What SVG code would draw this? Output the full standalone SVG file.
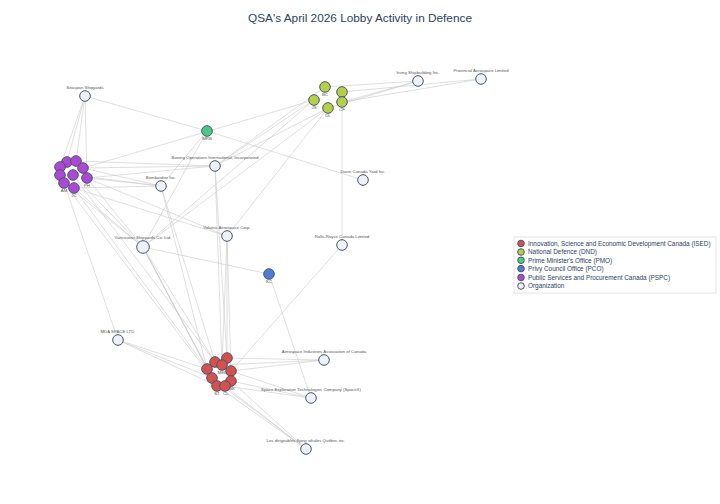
<svg xmlns="http://www.w3.org/2000/svg" width="720" height="504" viewBox="0 0 720 504">
<style>
.e{stroke:#c9c9c9;stroke-width:0.6;fill:none}
.n{stroke:#4a5563;stroke-width:1}
.org{fill:#eef2f8}
.ised{fill:#d4514f}
.dnd{fill:#b6cf4a}
.pmo{fill:#4cc984}
.pco{fill:#4f7bd3}
.pspc{fill:#ab49d6}
.lb{font-family:"Liberation Sans",Arial,sans-serif;font-size:4.3px;fill:#555;text-anchor:middle}
.title{font-family:"Liberation Sans",Arial,sans-serif;font-size:11.8px;fill:#2a3f5f;text-anchor:middle}
.lg{font-family:"Liberation Sans",Arial,sans-serif;font-size:6.4px;fill:#2a3f5f}
</style>
<rect width="720" height="504" fill="#fff"/>
<text class="title" x="360" y="22">QSA's April 2026 Lobby Activity in Defence</text>
<g id="connectors">
<line class="e" x1="85" y1="96" x2="67" y2="162"/>
<line class="e" x1="85" y1="96" x2="76" y2="161"/>
<line class="e" x1="85" y1="96" x2="60" y2="167"/>
<line class="e" x1="85" y1="96" x2="87" y2="178"/>
<line class="e" x1="85" y1="96" x2="207" y2="131"/>
<line class="e" x1="207" y1="131" x2="363" y2="180"/>
<line class="e" x1="207" y1="131" x2="143" y2="247"/>
<line class="e" x1="207" y1="131" x2="161" y2="186"/>
<line class="e" x1="325" y1="87" x2="418" y2="81"/>
<line class="e" x1="342" y1="102" x2="418" y2="81"/>
<line class="e" x1="328" y1="108" x2="418" y2="81"/>
<line class="e" x1="342" y1="92" x2="481" y2="79"/>
<line class="e" x1="342" y1="102" x2="481" y2="79"/>
<line class="e" x1="342" y1="102" x2="342" y2="245"/>
<line class="e" x1="314" y1="100" x2="215" y2="166"/>
<line class="e" x1="328" y1="108" x2="215" y2="166"/>
<line class="e" x1="325" y1="87" x2="215" y2="166"/>
<line class="e" x1="314" y1="100" x2="143" y2="247"/>
<line class="e" x1="328" y1="108" x2="143" y2="247"/>
<line class="e" x1="328" y1="108" x2="227" y2="236"/>
<line class="e" x1="83" y1="168" x2="314" y2="100"/>
<line class="e" x1="76" y1="161" x2="215" y2="166"/>
<line class="e" x1="83" y1="168" x2="215" y2="166"/>
<line class="e" x1="87" y1="178" x2="215" y2="166"/>
<line class="e" x1="83" y1="168" x2="161" y2="186"/>
<line class="e" x1="87" y1="178" x2="161" y2="186"/>
<line class="e" x1="73" y1="175" x2="161" y2="186"/>
<line class="e" x1="74" y1="188" x2="161" y2="186"/>
<line class="e" x1="64" y1="183" x2="143" y2="247"/>
<line class="e" x1="74" y1="188" x2="143" y2="247"/>
<line class="e" x1="73" y1="175" x2="143" y2="247"/>
<line class="e" x1="87" y1="178" x2="143" y2="247"/>
<line class="e" x1="74" y1="188" x2="227" y2="236"/>
<line class="e" x1="87" y1="178" x2="227" y2="236"/>
<line class="e" x1="64" y1="183" x2="118" y2="340"/>
<line class="e" x1="74" y1="188" x2="207" y2="369"/>
<line class="e" x1="64" y1="183" x2="212" y2="378"/>
<line class="e" x1="73" y1="175" x2="215" y2="362"/>
<line class="e" x1="143" y1="247" x2="215" y2="362"/>
<line class="e" x1="143" y1="247" x2="207" y2="369"/>
<line class="e" x1="143" y1="247" x2="212" y2="378"/>
<line class="e" x1="143" y1="247" x2="217" y2="386"/>
<line class="e" x1="143" y1="247" x2="269" y2="274"/>
<line class="e" x1="161" y1="186" x2="207" y2="369"/>
<line class="e" x1="161" y1="186" x2="215" y2="362"/>
<line class="e" x1="215" y1="166" x2="222" y2="365"/>
<line class="e" x1="215" y1="166" x2="227" y2="358"/>
<line class="e" x1="227" y1="236" x2="227" y2="358"/>
<line class="e" x1="227" y1="236" x2="231" y2="371"/>
<line class="e" x1="227" y1="236" x2="222" y2="365"/>
<line class="e" x1="342" y1="245" x2="231" y2="371"/>
<line class="e" x1="118" y1="340" x2="207" y2="369"/>
<line class="e" x1="118" y1="340" x2="212" y2="378"/>
<line class="e" x1="118" y1="340" x2="217" y2="386"/>
<line class="e" x1="324" y1="360" x2="227" y2="358"/>
<line class="e" x1="324" y1="360" x2="231" y2="371"/>
<line class="e" x1="324" y1="360" x2="222" y2="365"/>
<line class="e" x1="311" y1="398" x2="231" y2="381"/>
<line class="e" x1="311" y1="398" x2="231" y2="371"/>
<line class="e" x1="311" y1="398" x2="225" y2="386"/>
<line class="e" x1="306" y1="449" x2="217" y2="386"/>
<line class="e" x1="306" y1="449" x2="225" y2="386"/>
<line class="e" x1="306" y1="449" x2="212" y2="378"/>
<line class="e" x1="306" y1="449" x2="231" y2="381"/>
<line class="e" x1="269" y1="274" x2="311" y2="398"/>
</g>
<g id="seaspan"><circle class="n org" cx="85" cy="96" r="5.3"/><text class="lb" x="85" y="89">Seaspan Shipyards</text></g>
<g id="irving"><circle class="n org" cx="418" cy="81" r="5.3"/><text class="lb" x="418" y="74">Irving Shipbuilding Inc.</text></g>
<g id="provincial"><circle class="n org" cx="481" cy="79" r="5.3"/><text class="lb" x="481" y="72">Provincial Aerospace Limited</text></g>
<g id="boeing"><circle class="n org" cx="215" cy="166" r="5.3"/><text class="lb" x="215" y="159">Boeing Operations International, Incorporated</text></g>
<g id="bombardier"><circle class="n org" cx="161" cy="186" r="5.3"/><text class="lb" x="161" y="179">Bombardier Inc.</text></g>
<g id="davie"><circle class="n org" cx="363" cy="180" r="5.3"/><text class="lb" x="363" y="173">Davie Canada Yard Inc.</text></g>
<g id="vancouver"><circle class="n org" cx="143" cy="247" r="6.3"/><text class="lb" x="143" y="239">Vancouver Shipyards Co. Ltd.</text></g>
<g id="volatus"><circle class="n org" cx="227" cy="236" r="5.3"/><text class="lb" x="227" y="229">Volatus Aerospace Corp.</text></g>
<g id="rollsroyce"><circle class="n org" cx="342" cy="245" r="5.3"/><text class="lb" x="342" y="238">Rolls-Royce Canada Limited</text></g>
<g id="mda"><circle class="n org" cx="118" cy="340" r="5.3"/><text class="lb" x="118" y="333">MDA SPACE LTD.</text></g>
<g id="aiac"><circle class="n org" cx="324" cy="360" r="5.3"/><text class="lb" x="324" y="353">Aerospace Industries Association of Canada</text></g>
<g id="spacex"><circle class="n org" cx="311" cy="398" r="5.3"/><text class="lb" x="311" y="391">Space Exploration Technologies Company (SpaceX)</text></g>
<g id="flyingwhales"><circle class="n org" cx="306" cy="449" r="5.3"/><text class="lb" x="306" y="442">Les dirigeables flying whales Québec inc.</text></g>
<g id="pmo-mrb"><circle class="n pmo" cx="207" cy="131" r="5.3"/><text class="lb" x="207" y="140">MRB</text></g>
<g id="pco-kc"><circle class="n pco" cx="269" cy="274" r="5.3"/><text class="lb" x="269" y="283">KC</text></g>
<g id="dnd-2"><circle class="n dnd" cx="342" cy="92" r="5.3"/></g>
<g id="dnd-bc"><circle class="n dnd" cx="325" cy="87" r="5.3"/><text class="lb" x="325" y="96">BC</text></g>
<g id="dnd-js"><circle class="n dnd" cx="314" cy="100" r="5.3"/><text class="lb" x="314" y="109">JS</text></g>
<g id="dnd-dl"><circle class="n dnd" cx="328" cy="108" r="5.3"/><text class="lb" x="328" y="117">DL</text></g>
<g id="dnd-cf"><circle class="n dnd" cx="342" cy="102" r="5.3"/><text class="lb" x="342" y="111">CF</text></g>
<g id="pspc-1"><circle class="n pspc" cx="67" cy="162" r="5.3"/></g>
<g id="pspc-2"><circle class="n pspc" cx="76" cy="161" r="5.3"/></g>
<g id="pspc-3"><circle class="n pspc" cx="60" cy="167" r="5.3"/></g>
<g id="pspc-4"><circle class="n pspc" cx="83" cy="168" r="5.3"/></g>
<g id="pspc-5"><circle class="n pspc" cx="60" cy="175" r="5.3"/></g>
<g id="pspc-6"><circle class="n pspc" cx="73" cy="175" r="5.3"/></g>
<g id="pspc-ph"><circle class="n pspc" cx="87" cy="178" r="5.3"/><text class="lb" x="87" y="187">PH</text></g>
<g id="pspc-am"><circle class="n pspc" cx="64" cy="183" r="5.3"/><text class="lb" x="64" y="192">AM</text></g>
<g id="pspc-jc"><circle class="n pspc" cx="74" cy="188" r="5.3"/><text class="lb" x="74" y="197">JC</text></g>
<g id="ised-1"><circle class="n ised" cx="227" cy="358" r="5.3"/></g>
<g id="ised-2"><circle class="n ised" cx="215" cy="362" r="5.3"/></g>
<g id="ised-mel"><circle class="n ised" cx="222" cy="365" r="5.3"/><text class="lb" x="222" y="374">MEL</text></g>
<g id="ised-4"><circle class="n ised" cx="207" cy="369" r="5.3"/></g>
<g id="ised-5"><circle class="n ised" cx="231" cy="371" r="5.3"/></g>
<g id="ised-6"><circle class="n ised" cx="212" cy="378" r="5.3"/></g>
<g id="ised-bk"><circle class="n ised" cx="231" cy="381" r="5.3"/><text class="lb" x="232" y="390">BK</text></g>
<g id="ised-st"><circle class="n ised" cx="217" cy="386" r="5.3"/><text class="lb" x="217" y="395">ST</text></g>
<g id="ised-cl"><circle class="n ised" cx="225" cy="386" r="5.3"/><text class="lb" x="226" y="395">CL</text></g>
<g id="legend">
<rect x="514" y="237" width="202" height="56" fill="#fff" stroke="#e4e4e4" stroke-width="1"/>
<circle class="n ised" cx="521" cy="243.5" r="3.3"/><text class="lg" x="528" y="245.8">Innovation, Science and Economic Development Canada (ISED)</text>
<circle class="n dnd" cx="521" cy="252" r="3.3"/><text class="lg" x="528" y="254.3">National Defence (DND)</text>
<circle class="n pmo" cx="521" cy="260.3" r="3.3"/><text class="lg" x="528" y="262.6">Prime Minister's Office (PMO)</text>
<circle class="n pco" cx="521" cy="268.6" r="3.3"/><text class="lg" x="528" y="270.9">Privy Council Office (PCO)</text>
<circle class="n pspc" cx="521" cy="277.5" r="3.3"/><text class="lg" x="528" y="279.8">Public Services and Procurement Canada (PSPC)</text>
<circle class="n org" cx="521" cy="286" r="3.3"/><text class="lg" x="528" y="288.3">Organization</text>
</g>
</svg>
